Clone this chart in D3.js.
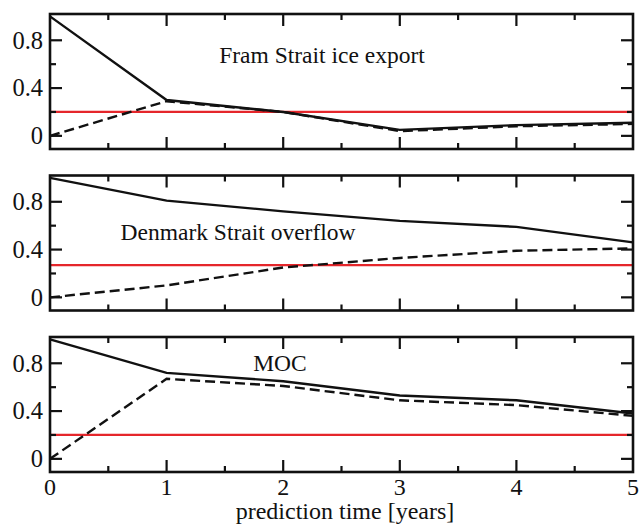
<!DOCTYPE html>
<html>
<head>
<meta charset="utf-8">
<script src="https://cdn.jsdelivr.net/npm/d3@7"></script>
<style>
  html, body { margin: 0; padding: 0; background: #fff; }
  svg { display: block; }
</style>
</head>
<body>
<svg id="chart" width="644" height="524"></svg>
<script>
// prediction horizon in years
const years = [0, 1, 2, 3, 4, 5];

// panel titles
const titles = ["Fram Strait ice export", "Denmark Strait overflow", "MOC"];

// solid curves
const solidSeries = [
  [1.0, 0.30, 0.20, 0.05, 0.09, 0.11],
  [1.0, 0.81, 0.72, 0.64, 0.59, 0.46],
  [1.0, 0.72, 0.65, 0.53, 0.49, 0.38]
];

// dashed curves
const dashedSeries = [
  [0.0, 0.29, 0.20, 0.04, 0.08, 0.10],
  [0.0, 0.10, 0.25, 0.33, 0.39, 0.41],
  [0.0, 0.67, 0.61, 0.49, 0.45, 0.36]
];

// horizontal reference levels (red)
const refLevels = [0.2, 0.27, 0.2];

// tick labels
const xTickLabels = ["0", "1", "2", "3", "4", "5"];
const yTickValues = [0, 0.4, 0.8];
const yTickLabels = ["0", "0.4", "0.8"];

const FONT = '"Liberation Serif", "Times New Roman", Times, serif';

const svg = d3.select("#chart");
const left = 50, right = 633;
const panelTop0 = 14, panelHeight = 135, panelPitch = 161.5;

const x = d3.scaleLinear().domain([0, 5]).range([left, right]);
const xMajor = d3.range(0, 6, 1);
const xMinor = d3.range(0.5, 5, 1);
const yMinor = [0.2, 0.6];
const majorLen = 12, minorLen = 6;

// title anchor (x, baseline offset from panel top)
const titlePos = [[322, 49], [238, 64], [280, 34]];

titles.forEach((title, i) => {
  const top = panelTop0 + i * panelPitch;
  const bottom = top + panelHeight;
  const y = d3.scaleLinear().domain([-0.11, 1.02]).range([bottom, top]);
  const g = svg.append("g");

  // reference level
  g.append("line")
    .attr("x1", x(0)).attr("x2", x(5))
    .attr("y1", y(refLevels[i])).attr("y2", y(refLevels[i]))
    .attr("stroke", "#e5262b").attr("stroke-width", 2.2);

  const line = d3.line().x((d, k) => x(years[k])).y(d => y(d));

  g.append("path").datum(dashedSeries[i])
    .attr("d", line).attr("fill", "none")
    .attr("stroke", "#111").attr("stroke-width", 2.4)
    .attr("stroke-dasharray", "10,5");

  g.append("path").datum(solidSeries[i])
    .attr("d", line).attr("fill", "none")
    .attr("stroke", "#111").attr("stroke-width", 2.4);

  // inward ticks on all four sides
  const ticks = g.append("g").attr("stroke", "#111").attr("stroke-width", 2.2);
  xMajor.concat(xMinor).forEach(v => {
    const len = Number.isInteger(v) ? majorLen : minorLen;
    if (v === 0 || v === 5) return;
    ticks.append("line").attr("x1", x(v)).attr("x2", x(v)).attr("y1", top).attr("y2", top + len);
    ticks.append("line").attr("x1", x(v)).attr("x2", x(v)).attr("y1", bottom).attr("y2", bottom - len);
  });
  yTickValues.concat(yMinor).forEach(v => {
    const len = yTickValues.includes(v) ? majorLen : minorLen;
    ticks.append("line").attr("x1", left).attr("x2", left + len).attr("y1", y(v)).attr("y2", y(v));
    ticks.append("line").attr("x1", right).attr("x2", right - len).attr("y1", y(v)).attr("y2", y(v));
  });

  // frame
  g.append("rect")
    .attr("x", left).attr("y", top)
    .attr("width", right - left).attr("height", bottom - top)
    .attr("fill", "none").attr("stroke", "#111").attr("stroke-width", 2.6);

  // y tick labels
  g.selectAll("text.ytick").data(yTickValues).enter().append("text")
    .attr("class", "ytick")
    .attr("x", 43).attr("y", v => y(v))
    .attr("dy", "0.34em")
    .attr("text-anchor", "end")
    .attr("font-family", FONT)
    .attr("font-size", 24.5)
    .attr("fill", "#111")
    .text((v, k) => yTickLabels[k]);

  // panel title
  g.append("text")
    .attr("x", titlePos[i][0]).attr("y", top + titlePos[i][1])
    .attr("text-anchor", "middle")
    .attr("font-family", FONT)
    .attr("font-size", 23.5)
    .attr("fill", "#111")
    .text(title);

  // x tick labels on bottom panel only
  if (i === titles.length - 1) {
    g.selectAll("text.xtick").data(xMajor).enter().append("text")
      .attr("class", "xtick")
      .attr("x", v => x(v)).attr("y", bottom + 23)
      .attr("text-anchor", "middle")
      .attr("font-family", FONT)
      .attr("font-size", 24)
      .attr("fill", "#111")
      .text((v, k) => xTickLabels[k]);
    g.append("text")
      .attr("x", 345).attr("y", 519)
      .attr("text-anchor", "middle")
      .attr("font-family", FONT)
      .attr("font-size", 24)
      .attr("fill", "#111")
      .text("prediction time [years]");
  }
});
</script>
</body>
</html>
